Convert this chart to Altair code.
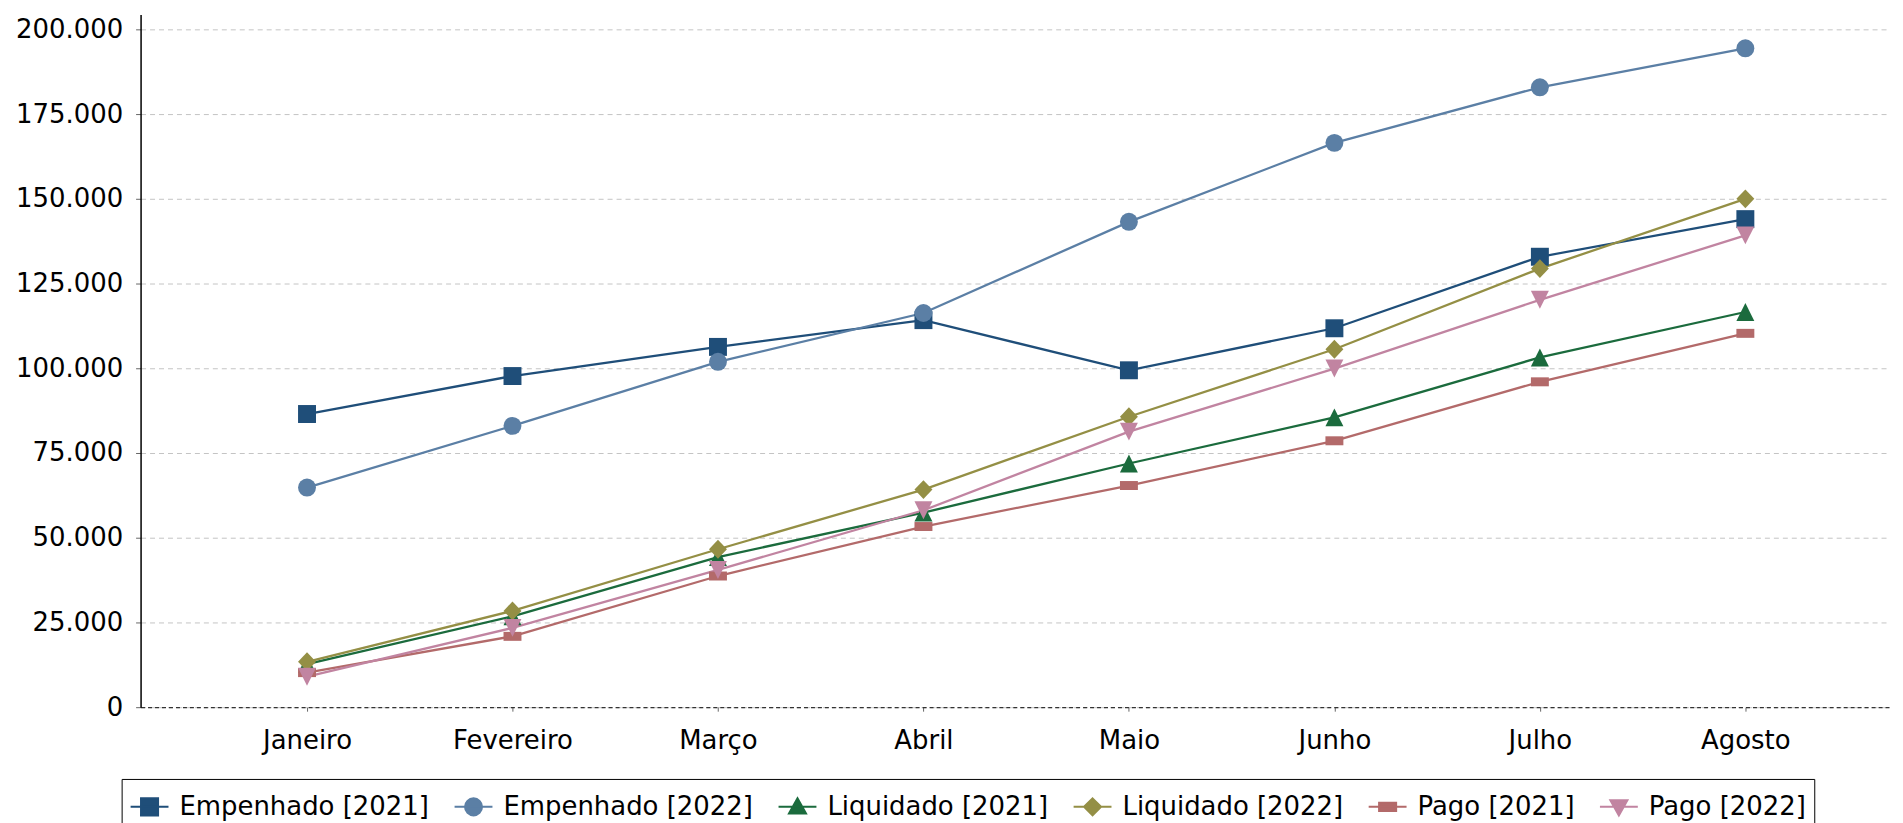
import altair as alt
import pandas as pd

months = ["Janeiro", "Fevereiro", "Março", "Abril", "Maio", "Junho", "Julho", "Agosto"]
series_names = ["Empenhado [2021]", "Empenhado [2022]", "Liquidado [2021]",
                "Liquidado [2022]", "Pago [2021]", "Pago [2022]"]

emp_2021 = [86500, 97700, 106300, 114200, 99400, 111800, 132900, 144000]
emp_2022 = [64800, 83000, 101900, 116300, 143200, 166500, 182900, 194400]
liq_2021 = [12700, 26800, 44300, 57400, 71900, 85500, 103200, 116600]
liq_2022 = [13400, 28400, 46600, 64200, 85700, 105600, 129400, 150000]
pago_2021 = [10200, 20900, 38700, 53300, 65400, 78600, 96000, 110300]
pago_2022 = [9000, 23400, 40500, 58100, 81300, 99900, 120200, 139200]

y_ticks = [0, 25000, 50000, 75000, 100000, 125000, 150000, 175000, 200000]

colors = ["#1f4e79", "#5b7fa5", "#1b6b3d", "#948f45", "#b36a6a", "#c184a1"]
marker_shapes = ["M-1,-1H1V1H-1Z", "circle", "M0,-1L1,1H-1Z",
                 "M0,-1.05L1,0L0,1.05L-1,0Z", "M-1,-0.5H1V0.5H-1Z", "M-1,-1H1L0,1Z"]
legend_shapes = [
    "M-1,0H1M-0.45,-0.45H0.45V0.45H-0.45Z",
    "M-1,0H1M-0.45,0A0.45,0.45,0,1,1,0.45,0A0.45,0.45,0,1,1,-0.45,0Z",
    "M-1,0H1M0,-0.45L0.45,0.35H-0.45Z",
    "M-1,0H1M0,-0.45L0.45,0L0,0.45L-0.45,0Z",
    "M-1,0H1M-0.45,-0.22H0.45V0.22H-0.45Z",
    "M-1,0H1M-0.45,-0.35H0.45L0,0.45Z",
]

values_by_series = [emp_2021, emp_2022, liq_2021, liq_2022, pago_2021, pago_2022]
rows = []
for name, vals in zip(series_names, values_by_series):
    for m, v in zip(months, vals):
        rows.append({"mes": m, "serie": name, "valor": v})
df = pd.DataFrame(rows)

FONT = "DejaVu Sans"

x_enc = alt.X("mes:N", sort=months,
              scale=alt.Scale(type="point", padding=0.757, align=0.535),
              axis=alt.Axis(title=None, labelAngle=0, labelFont=FONT, labelFontSize=26,
                            labelColor="black", labelPadding=16, tickSize=4,
                            tickColor="#666666", domainColor="#333333",
                            domainDash=[4, 3], domainWidth=1.2, grid=False))
y_enc = alt.Y("valor:Q",
              scale=alt.Scale(domain=[0, 204412], nice=False, zero=True),
              axis=alt.Axis(title=None, values=y_ticks,
                            labelExpr="replace(format(datum.value, ','), ',', '.')",
                            labelFont=FONT, labelFontSize=26, labelColor="black",
                            labelPadding=13, tickSize=5, tickColor="#666666",
                            domainColor="black", domainWidth=1.5,
                            grid=True, gridDash=[5, 4], gridColor="#c4c4c4",
                            gridWidth=1))

legend = alt.Legend(
    title=None, orient="none", legendX=-19, legendY=767, direction="horizontal",
    labelFont=FONT, labelFontSize=26, labelColor="black", labelLimit=600,
    symbolSize=1444, symbolStrokeWidth=2, labelOffset=10, columnPadding=21,
    strokeColor="black", fillColor="white", padding=8, symbolOpacity=1,
)

base = alt.Chart(df)

# invisible layer whose only job is to carry the legend (line + marker symbols)
legend_layer = base.mark_point(
    filled=True, opacity=0, strokeWidth=2, size=1
).encode(
    x=x_enc, y=y_enc,
    color=alt.Color("serie:N", scale=alt.Scale(domain=series_names, range=colors),
                    legend=legend),
    stroke=alt.Stroke("serie:N", scale=alt.Scale(domain=series_names, range=colors),
                      legend=legend),
    shape=alt.Shape("serie:N", scale=alt.Scale(domain=series_names, range=legend_shapes),
                    legend=legend),
)

lines = base.mark_line(strokeWidth=2.3).encode(
    x=x_enc, y=y_enc,
    color=alt.Color("serie:N", legend=legend),
)

point_layers = []
for name, shp in zip(series_names, marker_shapes):
    point_layers.append(
        base.transform_filter(alt.datum.serie == name)
        .mark_point(filled=True, size=324, opacity=1, shape=shp)
        .encode(x=x_enc, y=y_enc, color=alt.Color("serie:N", legend=legend))
    )

chart = alt.layer(legend_layer, lines, *point_layers).properties(
    width=1755, height=695,
    padding={"left": 7, "top": 5, "right": 5, "bottom": 60},
).configure(background="white").configure_view(stroke=None)

chart.save("out.html", embed_options={"renderer": "svg", "actions": False})
